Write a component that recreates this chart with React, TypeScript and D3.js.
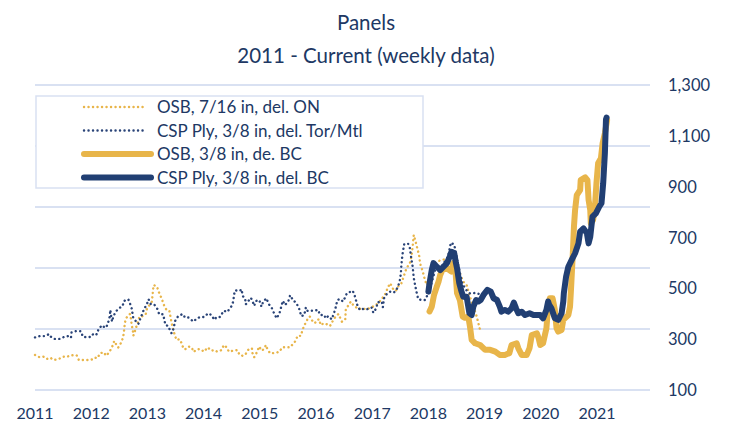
import React from "react";
import * as d3 from "d3";

const titleLines = ["Panels", "2011 - Current (weekly data)"];
const yearTicks = [2011, 2012, 2013, 2014, 2015, 2016, 2017, 2018, 2019, 2020, 2021];
const valueTicks = [100, 300, 500, 700, 900, 1100, 1300];
const gridTicks = [0, 1, 2, 3, 4, 5];
const seriesNames = [
  "OSB, 7/16 in, del. ON",
  "CSP Ply, 3/8 in, del. Tor/Mtl",
  "OSB, 3/8 in, de. BC",
  "CSP Ply, 3/8 in, del. BC",
];

// [decimal year, price]
const osbOnData: [number, number][] = [
  [2011.0, 238], [2011.08, 229], [2011.15, 231], [2011.21, 222], [2011.27, 227], [2011.34, 218],
  [2011.43, 223], [2011.5, 231], [2011.56, 230], [2011.65, 237], [2011.74, 237], [2011.78, 218],
  [2011.87, 218], [2011.97, 218], [2012.05, 222], [2012.07, 227], [2012.11, 225], [2012.16, 245],
  [2012.23, 248], [2012.26, 235], [2012.31, 245], [2012.35, 260], [2012.38, 274], [2012.41, 293],
  [2012.45, 277], [2012.48, 267], [2012.52, 281], [2012.56, 302], [2012.58, 323], [2012.59, 345],
  [2012.6, 366], [2012.63, 385], [2012.69, 399], [2012.71, 378], [2012.72, 356], [2012.74, 336],
  [2012.75, 314], [2012.77, 326], [2012.8, 347], [2012.82, 360], [2012.86, 389], [2012.9, 389],
  [2012.97, 398], [2012.99, 418], [2013.03, 432], [2013.08, 448], [2013.09, 470], [2013.1, 492],
  [2013.11, 513], [2013.17, 507], [2013.2, 487], [2013.24, 467], [2013.27, 450], [2013.3, 431],
  [2013.34, 415], [2013.39, 412], [2013.41, 389], [2013.43, 365], [2013.45, 345], [2013.47, 330],
  [2013.49, 313], [2013.52, 297], [2013.57, 300], [2013.61, 284], [2013.64, 264], [2013.67, 260],
  [2013.73, 271], [2013.79, 267], [2013.82, 250], [2013.88, 260], [2013.94, 261], [2014.01, 251],
  [2014.07, 268], [2014.14, 255], [2014.2, 257], [2014.24, 251], [2014.32, 257], [2014.36, 277],
  [2014.41, 268], [2014.45, 251], [2014.53, 255], [2014.6, 257], [2014.64, 238], [2014.7, 234],
  [2014.75, 242], [2014.8, 260], [2014.86, 264], [2014.87, 245], [2014.9, 229], [2014.94, 245],
  [2014.99, 271], [2015.03, 255], [2015.07, 260], [2015.11, 277], [2015.13, 264], [2015.18, 245],
  [2015.23, 245], [2015.3, 247], [2015.35, 251], [2015.4, 268], [2015.45, 268], [2015.54, 268],
  [2015.59, 281], [2015.64, 294], [2015.67, 313], [2015.73, 313], [2015.76, 336], [2015.79, 353],
  [2015.82, 366], [2015.85, 379], [2015.89, 389], [2015.92, 376], [2015.98, 363], [2016.02, 376],
  [2016.06, 378], [2016.08, 356], [2016.15, 363], [2016.19, 359], [2016.25, 352], [2016.28, 365],
  [2016.34, 386], [2016.4, 399], [2016.46, 369], [2016.52, 376], [2016.53, 415], [2016.58, 435],
  [2016.62, 448], [2016.66, 435], [2016.71, 426], [2016.75, 418], [2016.81, 421], [2016.9, 418],
  [2016.99, 425], [2017.08, 437], [2017.14, 450], [2017.2, 467], [2017.25, 484], [2017.27, 500],
  [2017.32, 520], [2017.38, 494], [2017.42, 490], [2017.46, 507], [2017.52, 520], [2017.57, 553],
  [2017.61, 579], [2017.67, 599], [2017.7, 627], [2017.72, 664], [2017.73, 690], [2017.74, 710],
  [2017.78, 677], [2017.81, 651], [2017.84, 624], [2017.85, 599], [2017.9, 566], [2017.93, 540],
  [2017.97, 513], [2018.02, 530], [2018.08, 575], [2018.15, 605], [2018.24, 612], [2018.33, 615],
  [2018.4, 625], [2018.49, 627], [2018.51, 599], [2018.56, 559], [2018.62, 526], [2018.68, 513],
  [2018.74, 467], [2018.8, 428], [2018.86, 389], [2018.92, 336],
];

const plyTorData: [number, number][] = [
  [2011.0, 307], [2011.08, 312], [2011.18, 312], [2011.25, 320], [2011.28, 310], [2011.34, 301],
  [2011.44, 301], [2011.52, 309], [2011.59, 312], [2011.64, 305], [2011.65, 326], [2011.73, 332],
  [2011.82, 331], [2011.85, 310], [2011.93, 307], [2012.01, 310], [2012.04, 323], [2012.1, 319],
  [2012.13, 339], [2012.19, 355], [2012.25, 344], [2012.29, 356], [2012.33, 389], [2012.34, 415],
  [2012.37, 369], [2012.39, 386], [2012.43, 406], [2012.48, 419], [2012.56, 431], [2012.58, 450],
  [2012.66, 457], [2012.69, 441], [2012.72, 421], [2012.75, 382], [2012.81, 367], [2012.84, 360],
  [2012.87, 378], [2012.9, 395], [2012.94, 418], [2012.99, 437], [2013.02, 457], [2013.06, 438],
  [2013.12, 437], [2013.18, 418], [2013.21, 398], [2013.28, 398], [2013.3, 378], [2013.32, 356],
  [2013.37, 352], [2013.4, 336], [2013.43, 323], [2013.46, 339], [2013.5, 376], [2013.55, 391],
  [2013.63, 399], [2013.67, 385], [2013.73, 385], [2013.82, 369], [2013.88, 382], [2013.94, 387],
  [2014.01, 387], [2014.08, 402], [2014.14, 395], [2014.19, 376], [2014.23, 387], [2014.29, 387],
  [2014.36, 412], [2014.42, 407], [2014.5, 431], [2014.53, 450], [2014.54, 473], [2014.56, 492],
  [2014.64, 490], [2014.68, 496], [2014.69, 472], [2014.74, 458], [2014.75, 437], [2014.84, 463],
  [2014.87, 450], [2014.9, 431], [2014.93, 450], [2014.99, 454], [2015.03, 428], [2015.06, 448],
  [2015.12, 461], [2015.15, 441], [2015.21, 424], [2015.26, 399], [2015.3, 382], [2015.35, 402],
  [2015.37, 418], [2015.41, 451], [2015.45, 434], [2015.51, 451], [2015.54, 473], [2015.6, 450],
  [2015.64, 446], [2015.69, 425], [2015.72, 408], [2015.73, 391], [2015.79, 394], [2015.82, 425],
  [2015.85, 411], [2015.95, 412], [2016.04, 415], [2016.07, 395], [2016.15, 395], [2016.17, 382],
  [2016.22, 391], [2016.28, 378], [2016.34, 415], [2016.38, 454], [2016.43, 458], [2016.48, 448],
  [2016.52, 465], [2016.55, 481], [2016.59, 484], [2016.65, 491], [2016.68, 478], [2016.71, 454],
  [2016.74, 431], [2016.78, 415], [2016.84, 419], [2016.91, 418], [2016.99, 424], [2017.02, 404],
  [2017.08, 424], [2017.09, 444], [2017.17, 448], [2017.19, 426], [2017.21, 461], [2017.26, 478],
  [2017.32, 487], [2017.38, 483], [2017.42, 490], [2017.46, 507], [2017.49, 529], [2017.51, 559],
  [2017.52, 595], [2017.54, 635], [2017.57, 675], [2017.64, 675], [2017.67, 658], [2017.69, 627],
  [2017.72, 585], [2017.74, 540], [2017.77, 506], [2017.8, 474], [2017.82, 457], [2017.88, 454],
  [2017.94, 454], [2017.97, 467], [2018.03, 501], [2018.12, 572], [2018.24, 588], [2018.35, 625],
  [2018.4, 680], [2018.46, 672], [2018.53, 592], [2018.6, 521], [2018.67, 494], [2018.74, 480],
  [2018.85, 482], [2018.92, 476],
];

const osbBcData: [number, number][] = [
  [2018.02, 409], [2018.06, 428], [2018.1, 474], [2018.15, 507], [2018.18, 526], [2018.21, 553],
  [2018.25, 572], [2018.33, 579], [2018.41, 566], [2018.44, 599], [2018.47, 605], [2018.51, 481],
  [2018.56, 454], [2018.61, 389], [2018.65, 384], [2018.71, 389], [2018.74, 349], [2018.77, 297],
  [2018.83, 284], [2018.92, 277], [2019.01, 258], [2019.1, 258], [2019.19, 251], [2019.27, 238],
  [2019.36, 238], [2019.44, 245], [2019.48, 277], [2019.57, 284], [2019.6, 264], [2019.66, 238],
  [2019.75, 238], [2019.8, 265], [2019.84, 316], [2019.93, 323], [2019.96, 305], [2019.99, 277],
  [2020.04, 284], [2020.1, 343], [2020.13, 428], [2020.16, 461], [2020.21, 461], [2020.25, 415],
  [2020.28, 343], [2020.31, 330], [2020.37, 336], [2020.4, 376], [2020.49, 395], [2020.52, 428],
  [2020.54, 507], [2020.57, 638], [2020.59, 743], [2020.61, 808], [2020.64, 867], [2020.7, 887],
  [2020.71, 926], [2020.79, 937], [2020.83, 926], [2020.85, 848], [2020.88, 808], [2020.89, 756],
  [2020.93, 769], [2020.96, 808], [2020.99, 913], [2021.02, 992], [2021.07, 1012], [2021.1, 1071],
  [2021.14, 1110], [2021.17, 1149], [2021.18, 1162],
];

const plyBcData: [number, number][] = [
  [2018.0, 487], [2018.02, 520], [2018.06, 572], [2018.09, 599], [2018.15, 585], [2018.21, 572],
  [2018.27, 585], [2018.33, 599], [2018.38, 625], [2018.41, 644], [2018.46, 638], [2018.49, 599],
  [2018.51, 579], [2018.55, 520], [2018.59, 487], [2018.62, 467], [2018.68, 467], [2018.73, 402],
  [2018.77, 395], [2018.8, 428], [2018.85, 454], [2018.89, 448], [2018.93, 454], [2018.98, 474],
  [2019.05, 494], [2019.11, 487], [2019.16, 461], [2019.22, 454], [2019.27, 428], [2019.3, 408],
  [2019.36, 415], [2019.42, 408], [2019.48, 421], [2019.52, 444], [2019.56, 421], [2019.6, 402],
  [2019.66, 408], [2019.72, 395], [2019.8, 402], [2019.87, 395], [2019.93, 395], [2019.99, 395],
  [2020.04, 382], [2020.1, 415], [2020.13, 448], [2020.15, 435], [2020.19, 421], [2020.25, 382],
  [2020.31, 376], [2020.37, 402], [2020.4, 448], [2020.41, 481], [2020.45, 546], [2020.49, 585],
  [2020.55, 612], [2020.61, 638], [2020.67, 677], [2020.7, 723], [2020.76, 736], [2020.82, 717],
  [2020.85, 677], [2020.88, 703], [2020.92, 782], [2020.98, 795], [2021.04, 821], [2021.08, 835],
  [2021.11, 913], [2021.14, 1031], [2021.16, 1165], [2021.17, 1172],
];

const ORANGE = "#E8B54A";
const NAVY = "#213F73";
const NAVY_DOT = "#2A4478";
const TEXT = "#203864";
const GRID = "#D9E1F2";
const FONT = "Lato, 'Open Sans', sans-serif";

export default function App() {
  const W = 732, H = 428;
  const x = d3.scaleLinear().domain([2011, 2021]).range([35, 597]);
  const y = d3.scaleLinear().domain([100, 1300]).range([390, 85]);
  const g = d3.scaleLinear().domain([0, 5]).range([390, 85]);
  const line = d3.line<[number, number]>().x(d => x(d[0])).y(d => y(d[1]));

  const series = [
    { data: osbOnData, color: ORANGE, width: 2.4, dash: "0.1 4.4" },
    { data: plyTorData, color: NAVY_DOT, width: 2.4, dash: "0.1 4.4" },
    { data: osbBcData, color: ORANGE, width: 6, dash: undefined },
    { data: plyBcData, color: NAVY, width: 6, dash: undefined },
  ];

  return (
    <svg width={W} height={H} style={{ position: "absolute", left: 0, top: 0, background: "#fff" }}>
      <text x={366} y={30} textAnchor="middle" fontFamily={FONT} fontSize={20.5} fill={TEXT}>{titleLines[0]}</text>
      <text x={366} y={63} textAnchor="middle" fontFamily={FONT} fontSize={20.5} fill={TEXT}>{titleLines[1]}</text>

      {gridTicks.map(t => (
        <line key={t} x1={35} x2={650} y1={g(t)} y2={g(t)} stroke={GRID} strokeWidth={2} />
      ))}

      {valueTicks.map(v => (
        <text key={v} x={668} y={y(v) + 6} fontFamily={FONT} fontSize={16.5} fill={TEXT}>
          {d3.format(",")(v)}
        </text>
      ))}
      {yearTicks.map(yr => (
        <text key={yr} x={x(yr)} y={419} textAnchor="middle" fontFamily={FONT} fontSize={16} fill={TEXT}>
          {yr}
        </text>
      ))}

      {series.map((s, i) => (
        <path key={i} d={line(s.data) || ""} fill="none" stroke={s.color} strokeWidth={s.width}
          strokeDasharray={s.dash} strokeLinecap="round" strokeLinejoin="round" />
      ))}

      <rect x={36} y={96} width={387} height={92} fill="#fff" stroke={GRID} strokeWidth={1.5} />
      {seriesNames.map((name, i) => {
        const cy = 107 + i * 23.5;
        const s = series[i];
        return (
          <g key={name}>
            <line x1={84} x2={i < 2 ? 147 : 151} y1={cy} y2={cy} stroke={s.color} strokeWidth={s.width}
              strokeDasharray={s.dash} strokeLinecap="round" />
            <text x={157} y={cy + 6} fontFamily={FONT} fontSize={17} fill={TEXT}>{name}</text>
          </g>
        );
      })}
    </svg>
  );
}
